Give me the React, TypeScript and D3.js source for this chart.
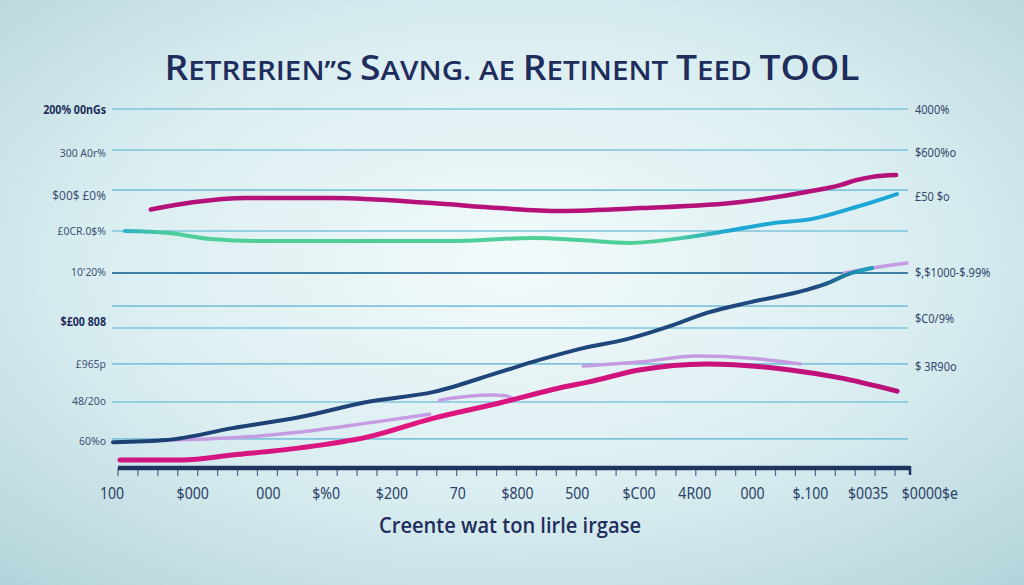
import React from "react";
import * as d3 from "d3";

// ---------- data ----------
type P = [number, number];

const magentaTop: P[] = [
  [1.9, 72], [4, 74], [6.7, 75.2], [11, 75.2], [16, 73.8], [19.4, 72.4], [22.4, 71.6],
  [26.5, 72.4], [31.5, 74.1], [34.8, 76.9], [36.5, 78.8], [37.3, 80.2], [38.1, 81.1], [39.3, 81.6],
];
const greenCyan: P[] = [
  [0.6, 66], [2.7, 65.5], [4.9, 63.8], [7.4, 63.2], [11, 63.2], [16.9, 63.2], [21.1, 64.1],
  [23.4, 63.5], [25.9, 62.7], [28.6, 64.1], [30.8, 66], [33.1, 68.2], [35.1, 69.4], [37.3, 72.7], [39.35, 76.3],
];
const navy: P[] = [
  [0, 7.2], [2.7, 7.8], [6, 11.1], [9.4, 14.2], [12.75, 18.4], [16.1, 21.2], [19.4, 26.7], [21.4, 30.1],
  [23.6, 33.4], [25.8, 35.9], [28.1, 39.8], [29.8, 43.2], [32, 46.2], [34.8, 49.6], [36, 51.8], [36.8, 53.8], [38.1, 55.7],
];
// lavender series, null = gap
const lavender: (P | null)[] = [
  [2.9, 7.8], [6, 8.4], [9.4, 10], [12.75, 12.5], [15.9, 15], null,
  [16.4, 18.9], [18.9, 20.3], [19.7, 20.1], [20.2, 18.9], null,
  [23.6, 28.4], [26.4, 29.5], [29.3, 31.2], [32, 30.6], [34.5, 29], null,
  [36.7, 54.3], [38.1, 55.7], [39.85, 57.1],
];
const magentaLow: P[] = [
  [0.35, 2.2], [3.5, 2.2], [6, 3.6], [9.4, 5.6], [12.75, 8.6], [16.1, 13.9], [19.4, 18.1], [22.4, 22.3],
  [23.9, 24], [26.4, 27.3], [29.8, 29], [34, 27.3], [36.5, 25.1], [39.35, 21.4],
];

const gridValues = [100, 88.6, 77.4, 66, 54.3, 45.1, 39, 29, 18.4, 8.1];
const leftLabels = ["200% 00nGs", "300 A0r%", "$00$ £0%", "£0CR.0$%", "10'20%", "$£00 808", "£965p", "48/20o", "60%o"];
const leftLabelValues = [100, 87.7, 75.8, 66, 54.6, 40.7, 29, 18.7, 7.5];
const rightLabels = ["4000%", "$600%o", "£50 $o", "$,$1000-$.99%", "$C0/9%", "$ 3R90o"];
const rightLabelValues = [99.7, 87.7, 75.5, 54.3, 41.5, 28.1];
const bottomLabels = ["100", "$000", "000", "$%0", "$200", "70", "$800", "500", "$C00", "4R00", "000", "$.100", "$0035", "$0000$e"];
const bottomLabelValues = [-0.05, 4.0, 7.8, 10.7, 14.0, 17.3, 20.3, 23.3, 26.4, 29.2, 32.1, 35.0, 37.9, 41.0];

const titleParts: [string, boolean][] = [
  ["R", true], ["ETRERIEN’’S ", false], ["S", true], ["AVNG. AE ", false],
  ["R", true], ["ETINENT ", false], ["T", true], ["EED ", false], ["TOOL", true],
];
const xTitle = "Creente wat ton lirle irgase";

// ---------- chart ----------
export default function App() {
  const W = 1024, H = 585;
  const x = d3.scaleLinear().domain([0, 40]).range([113, 910]);
  const y = d3.scaleLinear().domain([0, 100]).range([468, 109]);

  const line = d3.line<P>().x(d => x(d[0])).y(d => y(d[1])).curve(d3.curveMonotoneX);
  const lineGap = d3.line<P | null>()
    .defined(d => d !== null)
    .x(d => x((d as P)[0])).y(d => y((d as P)[1]))
    .curve(d3.curveMonotoneX);

  const ticks = d3.range(0.25, 40.01, 1);
  const labelFont = "'Noto Sans', 'Open Sans', sans-serif";

  return (
    <svg width={W} height={H} style={{ position: "absolute", left: 0, top: 0, display: "block" }}>
      <defs>
        <radialGradient id="bg" cx="50%" cy="45%" r="75%">
          <stop offset="0%" stopColor="#f3fafb" />
          <stop offset="55%" stopColor="#d9edf0" />
          <stop offset="100%" stopColor="#b2d3da" />
        </radialGradient>
        <linearGradient id="gc" gradientUnits="userSpaceOnUse" x1={x(0)} x2={x(40)} y1={0} y2={0}>
          <stop offset="0%" stopColor="#22a9d4" />
          <stop offset="4%" stopColor="#3fbfb0" />
          <stop offset="8%" stopColor="#4fcf98" />
          <stop offset="70%" stopColor="#4fcf98" />
          <stop offset="77%" stopColor="#1fa8d3" />
          <stop offset="100%" stopColor="#1aa6d6" />
        </linearGradient>
        <linearGradient id="nv" gradientUnits="userSpaceOnUse" x1={x(0)} x2={x(40)} y1={0} y2={0}>
          <stop offset="0%" stopColor="#1f3f74" />
          <stop offset="88%" stopColor="#1f4a7e" />
          <stop offset="94%" stopColor="#1f9bb8" />
          <stop offset="100%" stopColor="#2aa3c0" />
        </linearGradient>
        <linearGradient id="ml" gradientUnits="userSpaceOnUse" x1={x(0)} x2={x(40)} y1={0} y2={0}>
          <stop offset="0%" stopColor="#cf1584" />
          <stop offset="40%" stopColor="#e0157f" />
          <stop offset="100%" stopColor="#b8107a" />
        </linearGradient>
      </defs>
      <rect x={0} y={0} width={W} height={H} fill="url(#bg)" />

      {/* title */}
      <text x={W / 2} y={80} textAnchor="middle" textLength={695} lengthAdjust="spacingAndGlyphs"
        fill="#1e2d5c" fontFamily="'Open Sans', Lato, sans-serif" fontWeight={600}>
        {titleParts.map(([t, big], i) => (
          <tspan key={i} fontSize={big ? 34 : 27}>{t}</tspan>
        ))}
      </text>

      {/* grid */}
      {gridValues.map((v, i) => (
        <line key={i} x1={x(-0.05)} x2={x(39.9)} y1={y(v)} y2={y(v)}
          stroke={v === 54.3 ? "#3d7fa6" : "#7ec4dc"} strokeWidth={v === 54.3 ? 2 : 1.6} />
      ))}

      {/* left labels */}
      {leftLabels.map((t, i) => {
        const bold = i === 0 || i === 5;
        return (
          <g key={i} transform={`translate(106,${y(leftLabelValues[i])}) scale(${bold ? 0.82 : 0.95},1)`}>
            <text dy="0.35em" textAnchor="end" fontFamily={labelFont}
              fontSize={bold ? 13 : i === 2 ? 12.5 : 11}
              fontWeight={bold ? 700 : 400}
              fill={bold ? "#1e2d5c" : "#3e5275"}>{t}</text>
          </g>
        );
      })}
      {/* right labels */}
      {rightLabels.map((t, i) => (
        <g key={i} transform={`translate(915,${y(rightLabelValues[i])}) scale(0.92,1)`}>
          <text dy="0.35em" textAnchor="start" fontFamily={labelFont} fontSize={12} fill="#34486c">{t}</text>
        </g>
      ))}

      {/* series */}
      <path d={line(magentaTop) || ""} fill="none" stroke="#b5117a" strokeWidth={4.5} strokeLinecap="round" />
      <path d={line(greenCyan) || ""} fill="none" stroke="url(#gc)" strokeWidth={4} strokeLinecap="round" />
      <path d={lineGap(lavender) || ""} fill="none" stroke="#c59be2" strokeWidth={3.5} strokeLinecap="round" />
      <path d={line(navy) || ""} fill="none" stroke="url(#nv)" strokeWidth={4} strokeLinecap="round" />
      <path d={line(magentaLow) || ""} fill="none" stroke="url(#ml)" strokeWidth={5} strokeLinecap="round" />

      {/* x axis */}
      {ticks.map((t, i) => (
        <line key={i} x1={x(t)} x2={x(t)} y1={468} y2={476} stroke="#50668a" strokeWidth={1.2} />
      ))}
      <line x1={x(0.25)} x2={x(40)} y1={468} y2={468} stroke="#1e3562" strokeWidth={4.5} />
      <line x1={x(40)} x2={x(40)} y1={466} y2={475} stroke="#1e3562" strokeWidth={2.5} />
      {bottomLabels.map((t, i) => (
        <g key={i} transform={`translate(${x(bottomLabelValues[i])},499) scale(0.88,1)`}>
          <text textAnchor="middle" fontFamily={labelFont} fontSize={16} fill="#2b3f66">{t}</text>
        </g>
      ))}

      <text x={510} y={533} textAnchor="middle" textLength={262} lengthAdjust="spacingAndGlyphs"
        fontFamily="'Open Sans', sans-serif" fontWeight={600} fontSize={22} fill="#1e2d5c">{xTitle}</text>
    </svg>
  );
}
